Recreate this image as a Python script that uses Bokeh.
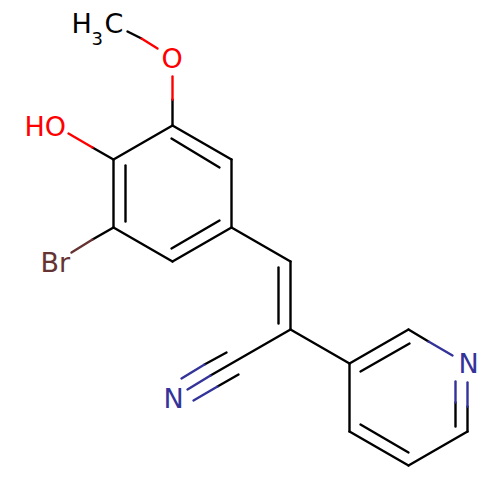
from bokeh.plotting import figure
from bokeh.models import Range1d, ColumnDataSource
from bokeh.core.properties import value
from bokeh.embed import file_html
from bokeh.resources import INLINE

BLACK = "#000000"
RED = "#ff0000"
BLUE = "#333399"
BROWN = "#663333"

# bonds: x0, y0, x1, y1, colour (image coordinates)
black_bonds = [
    (172, 125, 231, 159), (231, 159, 231, 227), (231, 227, 172, 261),
    (172, 261, 113, 227), (113, 227, 113, 159), (113, 159, 172, 125),
    (171, 138, 219, 167), (219, 220, 171, 248), (125, 221, 125, 165),
    (172, 125, 172, 99), (141, 38, 127, 31), (113, 159, 92, 147),
    (113, 227, 92, 239),
    (231, 227, 290, 261), (290, 261, 290, 329), (278, 267, 278, 323),
    (290, 329, 210, 375), (226, 352, 204, 364), (238, 374, 217, 386),
    (290, 329, 349, 363), (349, 363, 408, 329), (360, 371, 409, 343),
    (408, 329, 428, 341), (467, 406, 467, 431), (455, 402, 455, 426),
    (467, 431, 408, 465), (408, 465, 349, 431), (408, 452, 360, 424),
    (349, 431, 349, 363),
]
red_bonds = [(172, 99, 172, 76), (157, 48, 141, 38), (92, 147, 68, 133)]
brown_bonds = [(92, 239, 71, 252)]
blue_bonds = [
    (210, 375, 187, 389), (204, 364, 181, 378), (217, 386, 193, 400),
    (428, 341, 452, 355), (467, 406, 467, 382), (455, 402, 455, 381),
]

# atom labels: text, left x, vertical anchor y, font px, colour
label_text = ["H", "3", "C", "O", "HO", "Br", "N", "N"]
label_x = [71, 91, 104, 161, 24, 40, 163, 458]
label_y = [23, 38, 23, 58, 126, 262, 398, 363]
label_size = [27, 18, 27, 27, 27, 27, 27, 27]
label_color = [BLACK, BLACK, BLACK, RED, RED, BROWN, BLUE, BLUE]

p = figure(width=484, height=484, output_backend="svg", toolbar_location=None,
           x_range=Range1d(0, 484), y_range=Range1d(484, 0),
           min_border=0, outline_line_color=None)
p.axis.visible = False
p.grid.visible = False
p.background_fill_color = "#ffffff"
p.border_fill_color = "#ffffff"

for bonds, col in [(black_bonds, BLACK), (red_bonds, RED),
                   (brown_bonds, BROWN), (blue_bonds, BLUE)]:
    p.segment(x0=[b[0] for b in bonds], y0=[b[1] for b in bonds],
              x1=[b[2] for b in bonds], y1=[b[3] for b in bonds],
              line_color=col, line_width=2.4, line_cap="round")

src = ColumnDataSource(dict(x=label_x, y=label_y, t=label_text,
                            s=[f"{v}px" for v in label_size], c=label_color))
p.text(x="x", y="y", text="t", text_font_size="s", text_color="c", source=src,
       text_font=value("DejaVu Sans"), text_align="left", text_baseline="alphabetic")

open("out.html", "w").write(file_html(p, INLINE))
